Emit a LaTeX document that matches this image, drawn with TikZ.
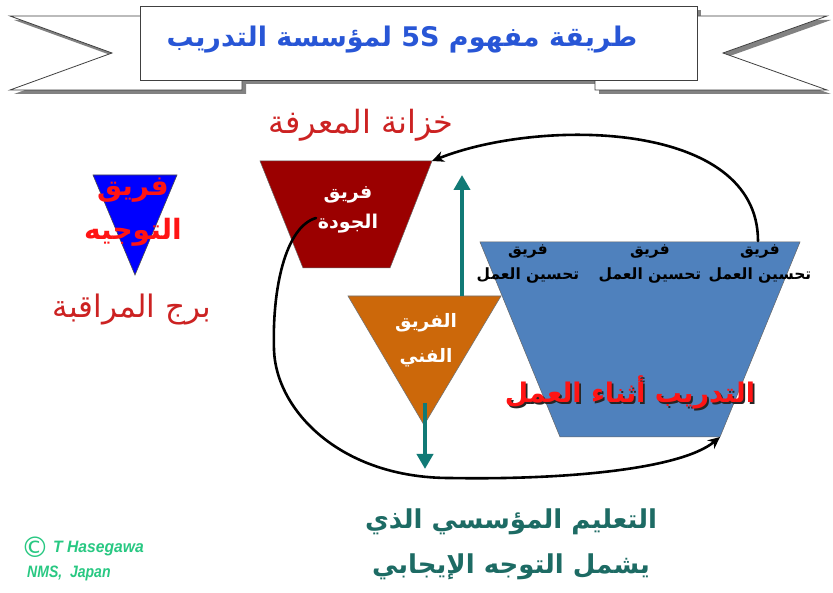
\documentclass[tikz,border=0pt]{standalone}
\usepackage{fontspec}
\TeXXeTstate=1
\setmainfont{Liberation Sans}
\newfontfamily\arabicfont[Script=Arabic]{DejaVu Sans}
\newfontfamily\symfont{DejaVu Sans}
\usetikzlibrary{arrows.meta}

\definecolor{titleblue}{RGB}{40,86,214}
\definecolor{softred}{RGB}{204,34,34}
\definecolor{brightred}{RGB}{255,20,20}
\definecolor{qualityred}{RGB}{155,0,0}
\definecolor{techorange}{RGB}{204,104,10}
\definecolor{ojtblue}{RGB}{79,129,189}
\definecolor{tealarrow}{RGB}{17,122,118}
\definecolor{tealtext}{RGB}{29,107,100}
\definecolor{copygreen}{RGB}{40,200,130}
\definecolor{ribbonshade}{RGB}{130,130,130}

\newcommand\artext[1]{\beginR#1\endR}
% red text with a dark drop shadow, set as one box
\newcommand\shadowtext[1]{\leavevmode\rlap{\raisebox{-1.8pt}{\hspace{1.8pt}\textcolor{black!85}{\artext{#1}}}}\textcolor{brightred}{\artext{#1}}}

\tikzset{
  ribbon/.style={fill=white, draw=black!75, line width=0.8pt},
  shade/.style={fill=ribbonshade},
  shapeedge/.style={draw=black!60, line width=0.5pt},
  artxt/.style={font=\arabicfont\bfseries, align=center, inner sep=0pt},
  teamtxt/.style={artxt, font=\arabicfont\bfseries\fontsize{15.5}{25}\selectfont, text=black},
  tealup/.style={draw=tealarrow, line width=4pt, -{Triangle[length=15pt,width=16pt]}},
  loopline/.style={draw=black, line width=2.6pt, line cap=round, -{Stealth[length=12pt,width=11pt]}},
  credittxt/.style={anchor=west, inner sep=0pt, text=copygreen, font=\bfseries\itshape\fontsize{16.5}{20}\selectfont},
}

\begin{document}
\begin{tikzpicture}[x=1pt,y=-1pt]
\useasboundingbox (0,0) rectangle (833,593);
\fill[white] (0,0) rectangle (833,593);

% ---- title ribbon ----
\begin{scope}[shift={(4,4)}]
  \fill[shade] (10,16) -- (242,16) -- (242,90) -- (10,90) -- (112,53) -- cycle;
  \fill[shade] (827,16) -- (595,16) -- (595,90) -- (827,90) -- (723,53) -- cycle;
  \fill[shade] (140,6) rectangle (697,80);
\end{scope}
\path[ribbon] (10,16) -- (242,16) -- (242,90) -- (10,90) -- (112,53) -- cycle;
\path[ribbon] (827,16) -- (595,16) -- (595,90) -- (827,90) -- (723,53) -- cycle;
\path[ribbon] (140,6) rectangle (697,80);
\node[artxt, text=titleblue, font=\arabicfont\bfseries\fontsize{27}{32}\selectfont] (title) at (402,40)
  {\artext{طريقة مفهوم 5S لمؤسسة التدريب}};

% ---- guidance team (blue triangle) ----
\coordinate (gtl) at (93,175);
\coordinate (gtr) at (177,175);
\coordinate (gap) at (135,275);
\path[fill=blue, draw=black!70, line width=0.6pt] (gtl) -- (gtr) -- (gap) -- cycle;
\node[artxt, text=brightred, font=\arabicfont\bfseries\fontsize{28}{44}\selectfont] (guide) at (133,212)
  {\artext{فريق}\\\artext{التوجيه}};
\node[artxt, text=softred, font=\arabicfont\fontsize{31}{36}\selectfont] (tower) at (132,310)
  {\artext{برج المراقبة}};

% ---- quality team (dark red trapezoid) ----
\coordinate (qtl) at (260,161);
\coordinate (qtr) at (432,161);
\coordinate (qbr) at (390,268);
\coordinate (qbl) at (303,268);
\path[fill=qualityred, shapeedge] (qtl) -- (qtr) -- (qbr) -- (qbl) -- cycle;
\node[artxt, text=white, font=\arabicfont\bfseries\fontsize{19}{30}\selectfont] (quality) at (348,210)
  {\artext{فريق}\\\artext{الجودة}};
\node[artxt, text=softred, font=\arabicfont\fontsize{32}{36}\selectfont] (store) at (361,125)
  {\artext{خزانة المعرفة}};
\coordinate (qstart) at (316,218);

% ---- on-the-job training (blue trapezoid) ----
\coordinate (otl) at (480,242);
\coordinate (otr) at (800,242);
\coordinate (obr) at (720,437);
\coordinate (obl) at (560,437);
\path[fill=ojtblue, shapeedge] (otl) -- (otr) -- (obr) -- (obl) -- cycle;
\node[teamtxt] (kz1) at (760,264) {\artext{فريق}\\\artext{تحسين العمل}};
\node[teamtxt] (kz2) at (650,264) {\artext{فريق}\\\artext{تحسين العمل}};
\node[teamtxt] (kz3) at (528,264) {\artext{فريق}\\\artext{تحسين العمل}};
\coordinate (kzstart) at (758,241);
\node[artxt, font=\arabicfont\bfseries\fontsize{27}{30}\selectfont] (ojt) at (630,393)
  {\shadowtext{التدريب أثناء العمل}};

% ---- technical team (orange triangle) ----
\coordinate (ttl) at (348,296);
\coordinate (ttr) at (501,296);
\coordinate (tap) at (424,425);
\path[fill=techorange, draw=black!55, line width=0.6pt] (ttl) -- (ttr) -- (tap) -- cycle;
\node[artxt, text=white, font=\arabicfont\bfseries\fontsize{18.5}{35}\selectfont] (tech) at (426,340)
  {\artext{الفريق}\\\artext{الفني}};

% ---- teal arrows ----
\coordinate (upfoot) at (462,296);
\coordinate (uptip) at (462,175);
\draw[tealup] (upfoot) -- (uptip);
\coordinate (downfoot) at (425,403);
\coordinate (downtip) at (425,469);
\draw[tealup] (downfoot) -- (downtip);

% ---- feedback loops ----
\draw[loopline] (kzstart) .. controls (758,120) and (540,118) .. (qtr);
\draw[loopline] (qstart) .. controls (285,227) and (272,290) .. (274,350)
  .. controls (276,410) and (340,478) .. (450,478)
  .. controls (560,480) and (680,470) .. (obr);

% ---- bottom caption ----
\node[artxt, text=tealtext, font=\arabicfont\bfseries\fontsize{26}{45}\selectfont] (caption) at (511,544)
  {\artext{التعليم المؤسسي الذي}\\\artext{يشمل التوجه الإيجابي}};

% ---- credit ----
\node[anchor=center, inner sep=0pt, text=copygreen, font=\symfont\fontsize{21}{22}\selectfont] (copy) at (35,547) {\scalebox{1.35}{©}};
\node[credittxt] (author) at (53,549) {\scalebox{0.95}[1]{T Hasegawa}};
\node[credittxt] (org) at (27,573) {\scalebox{0.85}[1]{NMS,\ \ Japan}};
\end{tikzpicture}
\end{document}
